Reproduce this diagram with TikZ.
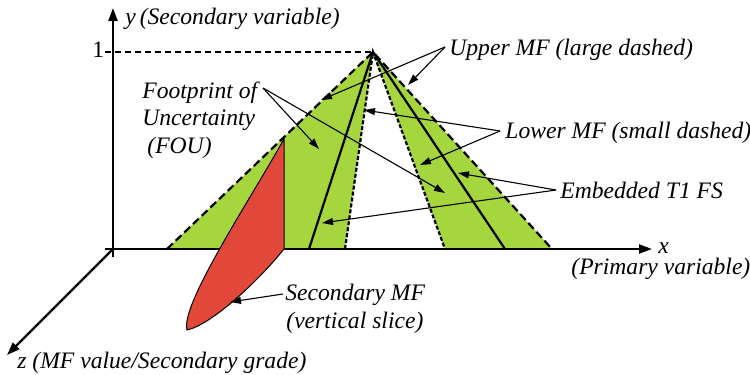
\documentclass[tikz,border=0pt]{standalone}
\usepackage{fontspec}
\setmainfont{Liberation Serif}
\usetikzlibrary{arrows.meta}
\definecolor{fougreen}{RGB}{166,214,62}
\definecolor{slicered}{RGB}{226,72,58}
\begin{document}
\begin{tikzpicture}[x=0.5pt,y=-0.5pt,
  lbl/.style={font=\fontsize{11.8}{14}\selectfont\itshape, inner sep=0pt, anchor=base west},
  ann/.style={line width=0.55pt, -{Triangle[length=5.5pt,width=3.5pt]}},
  axisline/.style={line width=1.1pt, -{Triangle[length=6.5pt,width=4.5pt]}},
  upperMF/.style={line width=1.1pt, dash pattern=on 4pt off 2pt},
  lowerMF/.style={line width=1.1pt, dash pattern=on 2pt off 1pt},
  embT1/.style={line width=1.1pt},
]
\useasboundingbox (0,0) rectangle (750,375);
% key points
\coordinate (O) at (113,249);
\coordinate (apex) at (373,52);
\coordinate (uL) at (167,249);
\coordinate (lL) at (345,249);
\coordinate (lR) at (445,249);
\coordinate (uR) at (552,249);
\coordinate (eL) at (309,249);
\coordinate (eR) at (505,249);
\coordinate (xs) at (105,249);
\coordinate (xe) at (652,249);
\coordinate (ys) at (113,257);
\coordinate (ye) at (113,8);
\coordinate (ze) at (7,355);
\coordinate (tick) at (105,52);
% FOU fill
\fill[fougreen] (uL) -- (apex) -- (lL) -- cycle;
\fill[fougreen] (apex) -- (uR) -- (lR) -- cycle;
% axes
\draw[line width=1.1pt] (xs) -- (O);
\draw[axisline] (O) -- (xe);
\draw[axisline] (ys) -- (ye);
\draw[axisline] (O) -- (ze);
\draw[line width=0.85pt, dash pattern=on 3pt off 2pt] (tick) -- (apex);
% MFs
\draw[upperMF] (uL) -- (apex) -- (uR);
\draw[lowerMF] (lL) -- (apex) -- (lR);
\draw[embT1] (eL) -- (apex) -- (eR);
% secondary MF slice
\coordinate (sTop) at (284,139);
\coordinate (sBot) at (284,249);
\coordinate (sTip) at (187,330);
\draw[fill=slicered, line width=0.5pt] (sTop) -- (sBot)
  .. controls (255,285) and (210,325) .. (sTip)
  .. controls (180,305) and (250,200) .. (sTop) -- cycle;
% labels
\node[lbl] (ylab) at (125,25) {y\,(Secondary variable)};
\node[font=\fontsize{11.8}{14}\selectfont, inner sep=0pt, anchor=base west] (one) at (92,57) {1};
\node[lbl] (xlab) at (658,253) {x};
\node[lbl] (xlab2) at (571,274) {(Primary variable)};
\node[lbl] (zlab) at (17,368) {z (MF value/Secondary grade)};
\node[lbl] (upper) at (449,55) {Upper MF (large dashed)};
\node[lbl] (lower) at (505,138) {Lower MF (small dashed)};
\node[lbl] (emb) at (560,198) {Embedded T1 FS};
\node[lbl] (fou1) at (142,98) {Footprint of};
\node[lbl] (fou2) at (142,125) {Uncertainty};
\node[lbl] (fou3) at (147,153) {(FOU)};
\node[lbl] (sec1) at (285,300) {Secondary MF};
\node[lbl] (sec2) at (286,328) {(vertical slice)};
% annotation arrows
\coordinate (upO) at (445,47);
\coordinate (upA) at (321,100);
\coordinate (upB) at (408,85);
\coordinate (fouO) at (263,88);
\coordinate (fouA) at (319,149);
\coordinate (fouB) at (445,193);
\coordinate (loO) at (500,131);
\coordinate (loA) at (364,110);
\coordinate (loB) at (420,165);
\coordinate (emO) at (556,190);
\coordinate (emA) at (458,173);
\coordinate (emB) at (322,223);
\coordinate (seO) at (283,294);
\coordinate (seA) at (230,302);
\draw[ann] (upO) -- (upA);
\draw[ann] (upO) -- (upB);
\draw[ann] (fouO) -- (fouA);
\draw[ann] (fouO) -- (fouB);
\draw[ann] (loO) -- (loA);
\draw[ann] (loO) -- (loB);
\draw[ann] (emO) -- (emA);
\draw[ann] (emO) -- (emB);
\draw[ann] (seO) -- (seA);
\end{tikzpicture}
\end{document}
